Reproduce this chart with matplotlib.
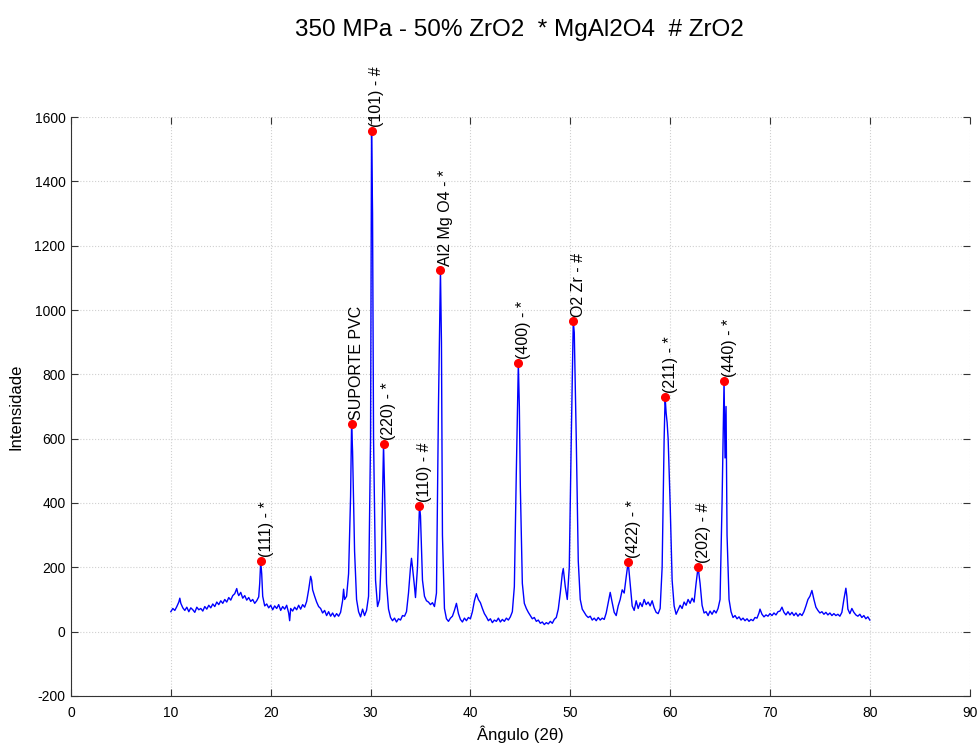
import numpy as np
import matplotlib.pyplot as plt

plt.rcParams['axes.unicode_minus'] = False

# difratograma: (angulo 2theta, intensidade)
angulo = [
    10.0, 10.2, 10.4, 10.6, 10.8, 10.9, 11.0, 11.2, 11.4, 11.6, 11.8, 12.0, 12.2, 12.4, 12.6, 12.8,
    13.0, 13.2, 13.4, 13.6, 13.8, 14.0, 14.2, 14.4, 14.6, 14.8, 15.0, 15.2, 15.4, 15.6, 15.8, 16.0,
    16.2, 16.4, 16.6, 16.7, 16.8, 17.0, 17.2, 17.4, 17.6, 17.8, 18.0, 18.2, 18.4, 18.6, 18.8, 18.9,
    19.0, 19.1, 19.2, 19.4, 19.6, 19.8, 20.0, 20.2, 20.4, 20.6, 20.8, 21.0, 21.2, 21.4, 21.6, 21.8,
    21.9, 22.0, 22.2, 22.4, 22.6, 22.8, 23.0, 23.2, 23.4, 23.6, 23.8, 24.0, 24.1, 24.2, 24.4, 24.6,
    24.8, 25.0, 25.2, 25.4, 25.6, 25.8, 26.0, 26.2, 26.4, 26.6, 26.8, 27.0, 27.2, 27.3, 27.4, 27.6,
    27.8, 28.0, 28.1, 28.2, 28.4, 28.6, 28.8, 29.0, 29.2, 29.4, 29.6, 29.8, 30.0, 30.1, 30.2, 30.3,
    30.5, 30.7, 30.9, 31.1, 31.3, 31.4, 31.6, 31.8, 32.0, 32.2, 32.4, 32.6, 32.8, 33.0, 33.2, 33.4,
    33.6, 33.8, 34.0, 34.1, 34.2, 34.4, 34.5, 34.7, 34.9, 35.0, 35.2, 35.4, 35.6, 35.8, 36.0, 36.2,
    36.4, 36.6, 36.8, 37.0, 37.1, 37.2, 37.4, 37.6, 37.8, 38.0, 38.2, 38.4, 38.6, 38.8, 39.0, 39.2,
    39.4, 39.6, 39.8, 40.0, 40.2, 40.4, 40.6, 40.8, 41.0, 41.2, 41.4, 41.6, 41.8, 42.0, 42.2, 42.4,
    42.6, 42.8, 43.0, 43.2, 43.4, 43.6, 43.8, 44.0, 44.2, 44.4, 44.6, 44.8, 44.9, 45.0, 45.2, 45.4,
    45.6, 45.8, 46.0, 46.2, 46.4, 46.6, 46.8, 47.0, 47.2, 47.4, 47.6, 47.8, 48.0, 48.2, 48.4, 48.6,
    48.8, 49.0, 49.2, 49.3, 49.5, 49.7, 49.9, 50.1, 50.3, 50.4, 50.6, 50.8, 51.0, 51.2, 51.4, 51.6,
    51.8, 52.0, 52.2, 52.4, 52.6, 52.8, 53.0, 53.2, 53.4, 53.6, 53.8, 54.0, 54.2, 54.4, 54.6, 54.8,
    55.0, 55.2, 55.4, 55.6, 55.8, 56.0, 56.2, 56.4, 56.6, 56.8, 57.0, 57.2, 57.4, 57.6, 57.8, 58.0,
    58.2, 58.4, 58.6, 58.8, 59.0, 59.2, 59.4, 59.5, 59.6, 59.7, 59.8, 60.0, 60.2, 60.4, 60.6, 60.8,
    61.0, 61.2, 61.4, 61.6, 61.8, 62.0, 62.2, 62.4, 62.6, 62.8, 63.0, 63.2, 63.4, 63.6, 63.8, 64.0,
    64.2, 64.4, 64.6, 64.8, 65.0, 65.2, 65.3, 65.4, 65.5, 65.6, 65.7, 65.9, 66.1, 66.3, 66.5, 66.7,
    66.9, 67.1, 67.3, 67.5, 67.7, 67.9, 68.1, 68.3, 68.5, 68.7, 68.9, 69.0, 69.2, 69.4, 69.6, 69.8,
    70.0, 70.2, 70.4, 70.6, 70.8, 71.0, 71.2, 71.4, 71.6, 71.8, 72.0, 72.2, 72.4, 72.6, 72.8, 73.0,
    73.2, 73.4, 73.6, 73.8, 74.0, 74.2, 74.4, 74.6, 74.8, 75.0, 75.2, 75.4, 75.6, 75.8, 76.0, 76.2,
    76.4, 76.6, 76.8, 77.0, 77.2, 77.4, 77.6, 77.7, 77.8, 78.0, 78.2, 78.4, 78.6, 78.8, 79.0, 79.2,
    79.4, 79.6, 79.8, 80.0,
]
intensidade = [
    62, 72, 66, 78, 92, 104, 88, 74, 66, 76, 62, 74, 68, 60, 76, 68,
    72, 64, 78, 70, 82, 74, 86, 78, 92, 84, 96, 88, 100, 92, 106, 98,
    112, 118, 134, 120, 112, 122, 104, 112, 98, 106, 94, 100, 88, 96, 108, 150,
    219, 180, 110, 80, 86, 74, 82, 68, 80, 72, 84, 66, 78, 70, 82, 58,
    34, 72, 64, 76, 68, 82, 70, 84, 76, 94, 130, 172, 160, 130, 110, 92,
    78, 72, 58, 66, 50, 62, 48, 58, 46, 56, 48, 60, 96, 132, 100, 110,
    180, 420, 646, 560, 250, 100, 62, 46, 70, 50, 66, 110, 600, 1556, 1300, 600,
    160, 78, 100, 250, 583, 450, 150, 70, 44, 34, 42, 30, 40, 36, 50, 48,
    62, 120, 200, 228, 200, 140, 106, 200, 391, 360, 160, 110, 96, 92, 84, 90,
    78, 120, 700, 1124, 900, 300, 72, 40, 32, 42, 48, 66, 88, 56, 38, 30,
    42, 34, 44, 40, 62, 96, 118, 100, 90, 72, 56, 46, 34, 40, 28, 36,
    32, 42, 30, 38, 32, 42, 36, 46, 62, 140, 500, 835, 700, 450, 150, 88,
    72, 60, 50, 40, 44, 32, 36, 26, 30, 22, 28, 24, 32, 26, 38, 44,
    70, 120, 180, 196, 140, 100, 200, 600, 965, 930, 600, 220, 100, 70, 60, 50,
    44, 48, 36, 42, 34, 44, 36, 42, 38, 58, 90, 122, 90, 60, 50, 80,
    100, 130, 120, 170, 217, 150, 80, 66, 96, 72, 90, 78, 100, 84, 92, 80,
    96, 74, 60, 56, 72, 200, 600, 729, 680, 650, 600, 400, 160, 80, 54, 68,
    82, 72, 92, 82, 100, 88, 104, 92, 150, 201, 150, 82, 58, 62, 50, 64,
    54, 66, 58, 72, 100, 400, 600, 779, 540, 700, 300, 100, 62, 44, 50, 40,
    46, 36, 42, 34, 40, 32, 38, 34, 44, 42, 58, 70, 54, 46, 52, 48,
    56, 50, 58, 52, 62, 64, 76, 60, 52, 62, 52, 60, 50, 58, 48, 56,
    50, 62, 80, 100, 110, 128, 100, 76, 66, 58, 62, 54, 60, 52, 58, 50,
    56, 50, 54, 48, 60, 100, 135, 110, 70, 56, 72, 60, 52, 48, 54, 44,
    50, 40, 46, 36,
]

# picos marcados
picos_ang = [19.0, 28.1, 30.1, 31.3, 34.9, 37.0, 44.8, 50.3, 55.8, 59.5, 62.8, 65.4]
picos_int = [219, 646, 1556, 583, 391, 1124, 835, 965, 217, 729, 201, 779]
rotulos = ['(111) - *', 'SUPORTE PVC', '(101) - #', '(220) - *', '(110) - #',
           'Al2 Mg O4 - *', '(400) - *', 'O2 Zr - #', '(422) - *', '(211) - *',
           '(202) - #', '(440) - *']

xticks = list(range(0, 100, 10))
yticks = list(range(-200, 1800, 200))

arial = ['Liberation Sans', 'DejaVu Sans']

fig = plt.figure(figsize=(9.79, 7.43), dpi=100)
ax = fig.add_axes([0.0725, 0.0633, 0.918, 0.7792])

ax.plot(angulo, intensidade, color='#0000ff', linewidth=1.0)
ax.plot(picos_ang, picos_int, 'o', color='#ff0000', markersize=5.5, zorder=3)

for xa, ya, r in zip(picos_ang, picos_int, rotulos):
    ax.annotate(r, (xa, ya), xytext=(-1.5, 3), textcoords='offset points',
                rotation=90, rotation_mode='anchor', ha='left', va='top',
                fontsize=11.5, family=arial)

ax.set_xlim(0, 90)
ax.set_ylim(-200, 1600)
ax.set_xticks(xticks)
ax.set_yticks(yticks)
ax.grid(True, linestyle=':', color='#d0d0d0', linewidth=0.8)
ax.set_axisbelow(True)

for s in ['top', 'right']:
    ax.spines[s].set_visible(False)
for s in ['left', 'bottom']:
    ax.spines[s].set_color('#333333')
ax.tick_params(direction='in', top=True, right=True, length=5, color='#333333')
ax.tick_params(axis='x', labelsize=10, pad=7)
ax.tick_params(axis='y', labelsize=10, pad=4)
for t in ax.get_xticklabels() + ax.get_yticklabels():
    t.set_family(arial)

ax.set_xlabel('Ângulo (2θ)', fontsize=12, family=arial, labelpad=4)
ax.set_ylabel('Intensidade', fontsize=12, family=arial, labelpad=8)

fig.text(0.531, 0.96, '350 MPa - 50% ZrO2  * MgAl2O4  # ZrO2', ha='center', va='center',
         fontsize=17.5, family=arial)

fig.savefig('out.png', dpi=100)
